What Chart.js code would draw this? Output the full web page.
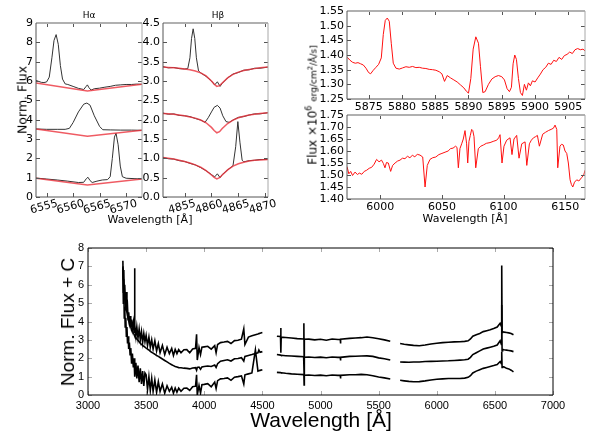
<!DOCTYPE html>
<html>
<head>
<meta charset="utf-8">
<script src="https://cdn.jsdelivr.net/npm/chart.js@4.4.0/dist/chart.umd.min.js"></script>
<style>
body { margin: 0; background: #fff; }
#fig { position: relative; width: 600px; height: 437px; overflow: hidden; font-family: 'DejaVu Sans', sans-serif; background: #fff; }
canvas { position: absolute; }
.t { position: absolute; white-space: nowrap; color: #000; transform: translate(-50%, -50%); }
.r { transform: translate(-50%, -50%) rotate(-90deg); }
</style>
</head>
<body>
<div id="fig">
  <canvas id="ha"></canvas>
  <canvas id="hb"></canvas>
  <canvas id="na"></canvas>
  <canvas id="cont"></canvas>
  <canvas id="full"></canvas>
  <div class="t" style="left:89px;top:15px;font-size:9px">Hα</div>
  <div class="t" style="left:218px;top:15px;font-size:9px">Hβ</div>
  <div class="t r" style="left:22px;top:100px;font-size:12.5px">Norm. Flux</div>
  <div class="t" style="left:150px;top:219px;font-size:11px">Wavelength [Å]</div>
  <div class="t" style="left:465px;top:218px;font-size:11px">Wavelength [Å]</div>
  <div class="t r" style="left:312px;top:105px;font-size:12px">Flux ×10<sup style="font-size:8px">6</sup> <span style="font-size:9px">erg/cm<sup style="font-size:7px">2</sup>/Å/s]</span></div>
  <div class="t r" style="left:68px;top:322px;font-size:19px;font-family:'Liberation Sans',sans-serif">Norm. Flux + C</div>
  <div class="t" style="left:321px;top:420px;font-size:21px;font-family:'Liberation Sans',sans-serif">Wavelength [Å]</div>
</div>
<script>
// H-alpha panel (observed spectra, black, and model, red)
var haTopWave = [6553, 6553.5, 6554, 6554.5, 6555, 6555.5, 6556, 6556.4, 6556.8, 6557.2, 6557.6, 6558, 6558.5, 6559, 6560, 6561, 6562, 6562.4, 6562.7, 6563, 6563.4, 6564, 6565, 6566, 6567, 6568, 6569, 6570, 6571, 6572, 6573];
var haTopFlux = [6.03, 5.98, 5.93, 5.92, 5.95, 6.2, 7.2, 8.1, 8.4, 7.9, 6.8, 6.1, 5.85, 5.82, 5.72, 5.62, 5.56, 5.7, 5.8, 5.65, 5.53, 5.6, 5.63, 5.68, 5.72, 5.78, 5.8, 5.82, 5.82, 5.84, 5.83];
var haMidWave = [6553, 6555, 6557, 6558.5, 6559.3, 6560, 6561, 6562, 6562.6, 6563.2, 6564, 6565, 6565.6, 6567, 6569, 6571, 6573];
var haMidFlux = [3.52, 3.5, 3.5, 3.5, 3.55, 3.85, 4.4, 4.8, 4.86, 4.75, 4.2, 3.65, 3.48, 3.47, 3.46, 3.46, 3.45];
var haLowWave = [6553, 6555, 6557, 6559, 6561, 6562, 6562.5, 6562.8, 6563.2, 6563.6, 6564.5, 6565.5, 6566.5, 6567, 6567.4, 6567.8, 6568.1, 6568.5, 6568.9, 6569.3, 6570, 6571.5, 6573];
var haLowFlux = [0.98, 0.93, 0.88, 0.82, 0.75, 0.76, 0.95, 1.02, 0.85, 0.75, 0.82, 0.88, 0.9, 1.05, 2.0, 3.1, 3.3, 2.7, 1.6, 1.05, 0.97, 0.95, 0.93];
var haModelWave = [6553, 6562.7, 6573];
var haModelTop = [5.9, 5.48, 5.83];
var haModelMid = [3.52, 3.14, 3.45];
var haModelLow = [0.97, 0.62, 0.93];

// H-beta panel
var hbModelWave = [4851, 4852, 4853, 4854, 4855, 4856, 4857, 4858, 4859, 4860, 4860.5, 4861, 4861.5, 4862, 4863, 4864, 4865, 4866, 4867, 4868, 4869, 4870.5];
var hbModelTop = [3.36, 3.35, 3.34, 3.33, 3.31, 3.29, 3.26, 3.21, 3.13, 3.0, 2.92, 2.86, 2.88, 2.95, 3.08, 3.17, 3.23, 3.27, 3.3, 3.32, 3.34, 3.36];
var hbModelMid = [2.16, 2.15, 2.14, 2.12, 2.1, 2.07, 2.04, 1.99, 1.92, 1.8, 1.72, 1.66, 1.69, 1.77, 1.9, 1.99, 2.05, 2.09, 2.12, 2.14, 2.16, 2.18];
var hbModelLow = [1.02, 1.0, 0.98, 0.95, 0.92, 0.88, 0.83, 0.77, 0.68, 0.57, 0.51, 0.47, 0.5, 0.57, 0.7, 0.8, 0.86, 0.9, 0.93, 0.95, 0.96, 0.97];
var hbTopWave = [4851, 4852, 4853, 4854, 4855, 4855.6, 4856, 4856.3, 4856.6, 4856.9, 4857.2, 4857.6, 4858, 4859, 4860, 4860.6, 4861.1, 4861.6, 4862, 4863, 4864, 4865, 4866, 4867, 4868, 4869, 4870.5];
var hbTopFlux = [3.37, 3.34, 3.35, 3.32, 3.31, 3.32, 3.6, 4.1, 4.35, 4.1, 3.6, 3.26, 3.21, 3.12, 3.0, 2.9, 2.98, 2.86, 2.94, 3.08, 3.18, 3.22, 3.28, 3.29, 3.33, 3.33, 3.36];
var hbMidWave = [4851, 4852, 4853, 4854, 4855, 4856, 4857, 4858, 4858.8, 4859.4, 4860, 4860.5, 4861.1, 4861.6, 4862.1, 4862.7, 4863.3, 4864, 4865, 4866, 4867, 4868, 4869, 4870.5];
var hbMidFlux = [2.17, 2.14, 2.15, 2.11, 2.1, 2.08, 2.03, 1.99, 1.93, 2.05, 2.2, 2.32, 2.37, 2.3, 2.1, 1.95, 1.93, 1.99, 2.06, 2.08, 2.12, 2.15, 2.15, 2.18];
var hbLowWave = [4851, 4852, 4853, 4854, 4855, 4856, 4857, 4858, 4859, 4860, 4860.6, 4861.1, 4861.6, 4862, 4863, 4864, 4864.5, 4864.9, 4865.3, 4865.7, 4866, 4867, 4868, 4869, 4870.5];
var hbLowFlux = [1.02, 0.99, 0.98, 0.94, 0.92, 0.87, 0.83, 0.76, 0.68, 0.58, 0.52, 0.6, 0.5, 0.58, 0.7, 0.81, 1.3, 1.95, 1.4, 0.95, 0.91, 0.94, 0.95, 0.97, 0.97];

// Na D region, flux-calibrated
var naWave = [5871.8, 5872.2, 5872.6, 5873, 5873.4, 5873.8, 5874.2, 5874.6, 5875, 5875.3, 5875.7, 5876.1, 5876.5, 5876.9, 5877.2, 5877.5, 5877.8, 5878.1, 5878.4, 5878.7, 5879.1, 5879.6, 5880.1, 5880.6, 5881.1, 5881.6, 5882.1, 5882.6, 5883.1, 5883.6, 5884.1, 5884.6, 5885.1, 5885.6, 5886, 5886.4, 5886.8, 5887.3, 5887.8, 5888.3, 5888.8, 5889.3, 5889.7, 5890, 5890.35, 5890.7, 5891.1, 5891.5, 5891.8, 5892.15, 5892.5, 5893, 5893.5, 5894, 5894.5, 5895, 5895.4, 5895.8, 5896.15, 5896.45, 5896.7, 5896.95, 5897.2, 5897.5, 5897.8, 5898.1, 5898.4, 5898.7, 5899, 5899.3, 5899.6, 5900, 5900.4, 5900.8, 5901.2, 5901.6, 5902, 5902.4, 5902.8, 5903.2, 5903.6, 5904, 5904.4, 5904.8, 5905.2, 5905.6, 5906, 5906.4, 5906.8, 5907.2, 5907.5];
var naFlux = [1.392, 1.382, 1.375, 1.372, 1.374, 1.370, 1.366, 1.355, 1.340, 1.336, 1.348, 1.358, 1.368, 1.390, 1.470, 1.518, 1.526, 1.515, 1.440, 1.372, 1.355, 1.352, 1.356, 1.360, 1.358, 1.361, 1.357, 1.358, 1.355, 1.354, 1.351, 1.350, 1.348, 1.343, 1.336, 1.310, 1.330, 1.322, 1.315, 1.308, 1.298, 1.288, 1.276, 1.270, 1.320, 1.420, 1.462, 1.440, 1.360, 1.272, 1.275, 1.300, 1.318, 1.326, 1.330, 1.326, 1.315, 1.285, 1.275, 1.290, 1.370, 1.400, 1.385, 1.320, 1.272, 1.262, 1.300, 1.280, 1.305, 1.295, 1.312, 1.308, 1.322, 1.335, 1.350, 1.358, 1.372, 1.368, 1.382, 1.378, 1.392, 1.385, 1.398, 1.402, 1.410, 1.405, 1.418, 1.422, 1.418, 1.420, 1.414];

// 6000-6170 A region
var contWave = [5973, 5974.5, 5976, 5977.5, 5979.5, 5981.5, 5983, 5985, 5987, 5989, 5991, 5993, 5995, 5997, 5999, 6001, 6002.5, 6003.8, 6005, 6006.5, 6008.4, 6010, 6012, 6014, 6016, 6018, 6020, 6022, 6024, 6026, 6028, 6030, 6032.2, 6034.4, 6036.3, 6038.1, 6040.3, 6042.5, 6045, 6047.5, 6050, 6052.5, 6055, 6057, 6059, 6061, 6062.2, 6063.3, 6064.6, 6066, 6067.3, 6068.7, 6070, 6070.9, 6071.9, 6073, 6074.1, 6075, 6076, 6077.4, 6079.5, 6081.5, 6083.6, 6086, 6089, 6091.5, 6094.4, 6096, 6097.1, 6098.7, 6100.3, 6102.5, 6105.2, 6106.8, 6108.4, 6110.6, 6112.5, 6114.7, 6117.4, 6118.8, 6120.9, 6122.5, 6124.2, 6126, 6127.4, 6129, 6131.7, 6134, 6136.3, 6138.5, 6140.4, 6141.7, 6143.1, 6143.9, 6145.7, 6147, 6148.4, 6149.8, 6151.2, 6152.5, 6153.9, 6155, 6156.1, 6157.5, 6159.3, 6161, 6163.4, 6165, 6166];
var contFlux = [1.535, 1.505, 1.515, 1.498, 1.512, 1.502, 1.508, 1.503, 1.515, 1.52, 1.528, 1.532, 1.545, 1.565, 1.555, 1.562, 1.548, 1.53, 1.552, 1.55, 1.515, 1.54, 1.55, 1.558, 1.562, 1.57, 1.568, 1.578, 1.572, 1.582, 1.576, 1.586, 1.583, 1.575, 1.45, 1.54, 1.565, 1.572, 1.575, 1.585, 1.59, 1.595, 1.6, 1.61, 1.612, 1.62, 1.615, 1.53, 1.61, 1.63, 1.65, 1.685, 1.63, 1.55, 1.64, 1.665, 1.69, 1.685, 1.66, 1.53, 1.61, 1.62, 1.625, 1.632, 1.635, 1.64, 1.645, 1.655, 1.668, 1.55, 1.62, 1.645, 1.655, 1.585, 1.65, 1.665, 1.57, 1.63, 1.638, 1.54, 1.63, 1.645, 1.655, 1.66, 1.665, 1.62, 1.67, 1.678, 1.685, 1.69, 1.695, 1.708, 1.69, 1.53, 1.62, 1.628, 1.625, 1.6, 1.59, 1.55, 1.48, 1.46, 1.45, 1.47, 1.48, 1.475, 1.49, 1.5, 1.52];

// full spectra, three epochs offset by a constant (null = gap between arms)
var fullWave = [3300, 3304, 3308, 3312, 3316, 3320, 3325, 3330, 3335, 3340, 3345, 3350, 3356, 3362, 3368, 3375, 3382, 3390, 3396, 3400, 3404, 3412, 3420, 3430, 3440, 3450, 3460, 3470, 3480, 3490, 3500, 3512, 3524, 3536, 3548, 3560, 3575, 3590, 3605, 3620, 3640, 3660, 3680, 3700, 3720, 3735, 3750, 3765, 3780, 3800, 3825, 3850, 3875, 3900, 3925, 3934, 3940, 3955, 3968, 3980, 4000, 4030, 4060, 4090, 4102, 4115, 4140, 4170, 4200, 4230, 4260, 4290, 4320, 4340, 4350, 4380, 4410, 4440, 4462, 4470, 4480, 4500,
  4560,
  4625, 4656, 4658, 4660, 4662, 4700, 4750, 4800, 4855, 4857, 4859, 4861, 4900, 4950, 5000, 5050, 5100, 5150, 5170, 5172, 5174, 5250, 5300, 5350, 5400, 5450, 5500, 5550, 5600,
  5640,
  5685, 5720, 5760, 5800, 5850, 5900, 5950, 6000, 6050, 6100, 6150, 6200, 6240, 6270, 6290, 6310, 6340, 6370, 6400, 6430, 6460, 6490, 6520, 6545, 6556, 6559, 6562, 6566, 6580, 6600, 6620, 6640, 6660];
var fullTop = [7.3, 5.6, 6.8, 5.2, 6.0, 5.4, 4.6, 5.6, 4.6, 4.8, 4.1, 4.5, 4.0, 4.3, 3.7, 4.1, 3.6, 3.95, 3.4, 6.9, 3.8, 3.2, 3.7, 3.1, 3.6, 3.0, 3.45, 2.85, 3.35, 2.9, 3.25, 2.7, 3.15, 2.6, 3.0, 2.5, 2.95, 2.4, 2.8, 2.3, 2.7, 2.2, 2.6, 2.25, 2.53, 2.15, 2.48, 2.25, 2.47, 2.3, 2.46, 2.47, 2.3, 2.5, 2.54, 3.3, 1.9, 2.58, 2.2, 2.6, 2.62, 2.65, 2.5, 2.69, 2.3, 2.75, 2.85, 2.88, 2.92, 2.8, 2.96, 2.98, 3.04, 3.6, 2.75, 3.15, 3.22, 3.28, 3.32, 3.34, 3.36, 3.4,
  null,
  3.2, 3.18, 3.65, 2.3, 3.15, 3.13, 3.1, 3.07, 3.05, 3.9, 2.1, 3.03, 3.04, 3.0, 3.03, 2.98, 3.05, 3.02, 3.02, 2.8, 3.03, 3.08, 3.1, 3.12, 3.16, 3.12, 3.06, 3.0, 2.92,
  null,
  2.8, 2.76, 2.73, 2.7, 2.68, 2.72, 2.78, 2.82, 2.85, 2.87, 2.89, 2.9, 2.92, 2.95, 3.05, 3.2, 3.28, 3.35, 3.45, 3.5, 3.55, 3.62, 3.7, 3.9, 3.75, 7.05, 3.4, 3.45, 3.42, 3.4, 3.38, 3.35, 3.28];
var fullMid = [7.0, 6.3, 6.2, 5.6, 5.5, 5.0, 4.9, 4.6, 4.5, 4.3, 4.2, 4.05, 3.95, 3.85, 3.7, 3.6, 3.5, 3.35, 3.3, 3.25, 3.2, 3.12, 3.05, 2.98, 2.9, 2.82, 2.75, 2.7, 2.65, 2.6, 2.55, 2.5, 2.45, 2.38, 2.32, 2.28, 2.22, 2.15, 2.1, 2.04, 1.96, 1.88, 1.8, 1.72, 1.65, 1.6, 1.55, 1.52, 1.49, 1.48, 1.46, 1.45, 1.42, 1.47, 1.49, 1.35, 1.5, 1.52, 1.4, 1.53, 1.55, 1.58, 1.55, 1.63, 1.5, 1.7, 1.84, 1.88, 1.92, 1.85, 1.97, 1.99, 2.03, 1.85, 2.1, 2.15, 2.2, 2.26, 2.3, 2.45, 2.32, 2.36,
  null,
  2.2, 2.17, 2.17, 2.16, 2.16, 2.14, 2.12, 2.1, 2.08, 2.08, 1.1, 2.06, 2.07, 2.04, 2.06, 2.03, 2.07, 2.05, 2.05, 1.88, 2.05, 2.1, 2.11, 2.12, 2.13, 2.1, 2.02, 1.97, 1.9,
  null,
  1.8, 1.79, 1.78, 1.8, 1.8, 1.82, 1.83, 1.84, 1.85, 1.86, 1.88, 1.9, 1.92, 1.95, 2.05, 2.2, 2.3, 2.4, 2.5, 2.55, 2.6, 2.65, 2.72, 2.95, 2.75, 4.9, 2.4, 2.48, 2.46, 2.44, 2.42, 2.4, 2.36];
var fullLow = [6.9, 5.0, 5.9, 4.2, 4.8, 3.7, 4.2, 3.2, 3.7, 2.8, 3.2, 2.5, 2.85, 2.2, 2.55, 1.7, 2.25, 1.5, 2.0, 1.9, 1.0, 1.75, 0.9, 1.6, 0.7, 1.45, 0.6, 1.3, 0.5, 1.2, 1.1, 0.3, 1.0, 0.25, 0.9, 0.2, 0.82, 0.15, 0.72, 0.2, 0.6, 0.1, 0.5, 0.2, 0.42, 0.1, 0.38, 0.15, 0.37, 0.2, 0.37, 0.38, 0.25, 0.45, 0.48, 1.1, 0.0, 0.52, 0.1, 0.56, 0.58, 0.62, 0.45, 0.7, 0.35, 0.78, 0.88, 0.9, 0.93, 0.8, 0.97, 1.0, 1.04, 0.6, 1.1, 1.15, 1.2, 2.45, 1.3, 1.32, 1.34, 1.38,
  null,
  1.23, 1.22, 1.22, 1.21, 1.21, 1.18, 1.15, 1.13, 1.11, 1.1, 0.55, 1.08, 1.09, 1.06, 1.08, 1.05, 1.09, 1.07, 1.07, 0.9, 1.07, 1.1, 1.1, 1.12, 1.1, 1.05, 0.98, 0.93, 0.87,
  null,
  0.8, 0.77, 0.74, 0.72, 0.73, 0.77, 0.82, 0.86, 0.88, 0.9, 0.9, 0.9, 0.92, 0.96, 1.05, 1.2, 1.3, 1.38, 1.45, 1.5, 1.55, 1.6, 1.66, 1.82, 1.7, 2.35, 1.5, 1.55, 1.52, 1.45, 1.42, 1.35, 1.26];

// tick values
var haTicksX = [6555, 6560, 6565, 6570];
var haTicksY = [0, 1, 2, 3, 4, 5, 6, 7, 8, 9];
var hbTicksX = [4855, 4860, 4865, 4870];
var hbTicksY = [0, 0.5, 1, 1.5, 2, 2.5, 3, 3.5, 4, 4.5];
var naTicksX = [5875, 5880, 5885, 5890, 5895, 5900, 5905];
var naTicksY = [1.25, 1.3, 1.35, 1.4, 1.45, 1.5, 1.55];
var contTicksX = [6000, 6050, 6100, 6150];
var contTicksY = [1.4, 1.45, 1.5, 1.55, 1.6, 1.65, 1.7, 1.75];
var fullTicksX = [3000, 3500, 4000, 4500, 5000, 5500, 6000, 6500, 7000];
var fullTicksY = [0, 1, 2, 3, 4, 5, 6, 7, 8];

Chart.defaults.font.family = "'DejaVu Sans', sans-serif";
Chart.defaults.font.size = 11;
Chart.defaults.color = '#000';

function pts(xs, ys) {
    return xs.map(function (x, i) { return { x: x, y: ys[i] }; });
}

// spines and inward tick marks, matplotlib style
var frame = {
    id: 'frame',
    afterDraw: function (chart, args, o) {
        var ctx = chart.ctx, a = chart.chartArea;
        var sx = chart.scales.x, sy = chart.scales.y;
        ctx.save();
        ctx.lineWidth = 1;
        ctx.strokeStyle = o.tick;
        ctx.beginPath();
        sx.ticks.forEach(function (t) {
            var p = Math.round(sx.getPixelForValue(t.value)) + 0.5;
            ctx.moveTo(p, a.bottom); ctx.lineTo(p, a.bottom - o.len);
            ctx.moveTo(p, a.top); ctx.lineTo(p, a.top + o.len);
        });
        sy.ticks.forEach(function (t) {
            var p = Math.round(sy.getPixelForValue(t.value)) + 0.5;
            ctx.moveTo(a.left, p); ctx.lineTo(a.left + o.len, p);
            ctx.moveTo(a.right, p); ctx.lineTo(a.right - o.len, p);
        });
        ctx.stroke();
        function side(c, w, x1, y1, x2, y2) {
            ctx.strokeStyle = c; ctx.lineWidth = w;
            ctx.beginPath(); ctx.moveTo(x1, y1); ctx.lineTo(x2, y2); ctx.stroke();
        }
        side(o.top, o.topW, a.left, a.top, a.right, a.top);
        side(o.right, 1, a.right, a.top, a.right, a.bottom);
        side(o.left, 1, a.left, a.top, a.left, a.bottom);
        side(o.bottom, 1, a.left, a.bottom, a.right, a.bottom);
        ctx.restore();
    }
};

function makePanel(id, box, area, datasets, xAx, yAx, look) {
    var cv = document.getElementById(id);
    cv.width = box.w; cv.height = box.h;
    cv.style.left = box.x + 'px'; cv.style.top = box.y + 'px';
    function axis(ax, horiz) {
        return {
            type: 'linear', min: ax.min, max: ax.max,
            afterBuildTicks: function (s) { s.ticks = ax.ticks.map(function (v) { return { value: v }; }); },
            afterFit: function (s) {
                if (horiz) s.height = box.y + box.h - (area.y + area.h);
                else s.width = area.x - box.x;
            },
            grid: { display: false, drawTicks: false },
            border: { display: false },
            ticks: Object.assign({
                autoSkip: false, maxRotation: 0, padding: 3,
                callback: function (v) { return v.toFixed(ax.dec); }
            }, ax.opts || {})
        };
    }
    return new Chart(cv, {
        type: 'line',
        data: { datasets: datasets },
        options: {
            responsive: false,
            animation: false,
            layout: { padding: { left: 0, bottom: 0, top: area.y - box.y, right: box.x + box.w - area.x - area.w } },
            elements: { point: { radius: 0 }, line: { tension: 0 } },
            plugins: { legend: { display: false }, tooltip: { enabled: false }, frame: look },
            scales: { x: axis(xAx, true), y: axis(yAx, false) }
        },
        plugins: [frame]
    });
}

var black = function (d) { return { data: d, borderColor: '#333', borderWidth: 1 }; };
var model = function (d) { return { data: d, borderColor: 'rgba(235,50,60,0.8)', borderWidth: 1.5 }; };
var redLine = function (d) { return { data: d, borderColor: '#ff1010', borderWidth: 1 }; };
var grayLook = { tick: '#555', len: 4, top: '#b0b0b0', topW: 2, right: '#a8a8a8', left: '#555', bottom: '#555' };
var rotated = { minRotation: 15, maxRotation: 15, labelOffset: 11, padding: 0 };

makePanel('ha', { x: 0, y: 0, w: 150, h: 215 }, { x: 36, y: 23, w: 106, h: 174 }, [
    model(pts(haModelWave, haModelTop)), model(pts(haModelWave, haModelMid)), model(pts(haModelWave, haModelLow)),
    black(pts(haTopWave, haTopFlux)), black(pts(haMidWave, haMidFlux)), black(pts(haLowWave, haLowFlux))
], { min: 6553, max: 6573, ticks: haTicksX, dec: 0, opts: rotated },
   { min: 0, max: 9, ticks: haTicksY, dec: 0 }, grayLook);

makePanel('hb', { x: 140, y: 0, w: 140, h: 215 }, { x: 163, y: 23, w: 105, h: 174 }, [
    model(pts(hbModelWave, hbModelTop)), model(pts(hbModelWave, hbModelMid)), model(pts(hbModelWave, hbModelLow)),
    black(pts(hbTopWave, hbTopFlux)), black(pts(hbMidWave, hbMidFlux)), black(pts(hbLowWave, hbLowFlux))
], { min: 4851, max: 4870.5, ticks: hbTicksX, dec: 0, opts: rotated },
   { min: 0, max: 4.5, ticks: hbTicksY, dec: 1 }, grayLook);

makePanel('na', { x: 300, y: 0, w: 300, h: 113 }, { x: 347, y: 11, w: 238, h: 88 }, [
    redLine(pts(naWave, naFlux))
], { min: 5871.75, max: 5907.5, ticks: naTicksX, dec: 0, opts: { padding: 2 } },
   { min: 1.25, max: 1.55, ticks: naTicksY, dec: 2 }, grayLook);

makePanel('cont', { x: 300, y: 104, w: 300, h: 111 }, { x: 347, y: 115, w: 238, h: 84 }, [
    redLine(pts(contWave, contFlux))
], { min: 5973, max: 6166, ticks: contTicksX, dec: 0, opts: { padding: 2 } },
   { min: 1.4, max: 1.75, ticks: contTicksY, dec: 2 }, grayLook);

var sansSmall = { font: { family: "'Liberation Sans', sans-serif", size: 11 }, padding: 4 };
var thick = function (d) { return { data: d, borderColor: '#000', borderWidth: 1.6, spanGaps: false }; };
makePanel('full', { x: 0, y: 230, w: 600, h: 195 }, { x: 88, y: 248, w: 465, h: 147 }, [
    thick(pts(fullWave, fullTop)), thick(pts(fullWave, fullMid)), thick(pts(fullWave, fullLow))
], { min: 3000, max: 7000, ticks: fullTicksX, dec: 0, opts: sansSmall },
   { min: 0, max: 8, ticks: fullTicksY, dec: 0, opts: sansSmall },
   { tick: '#aaa', len: 4, top: '#000', topW: 1, right: '#000', left: '#000', bottom: '#000' });
</script>
</body>
</html>
